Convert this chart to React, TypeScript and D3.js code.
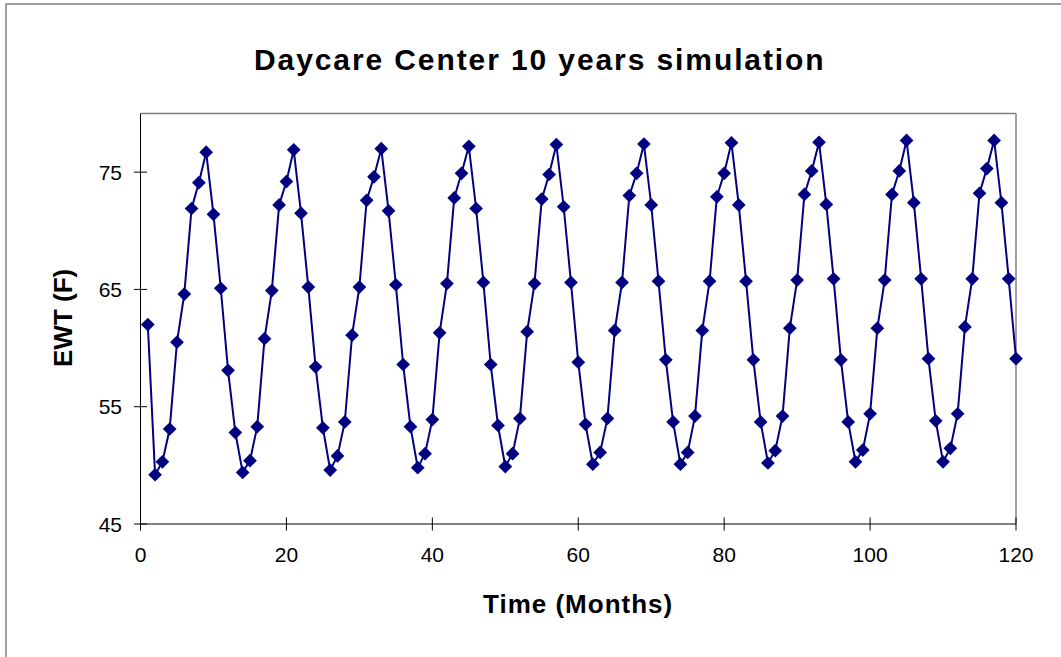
import React from "react";
import * as d3 from "d3";

const title = "Daycare Center 10 years simulation";
const xTitle = "Time (Months)";
const yTitle = "EWT (F)";
const xTicks = [0, 20, 40, 60, 80, 100, 120];
const yTicks = [45, 55, 65, 75];

const ewt = [
  62.0, 49.2, 50.3, 53.1, 60.5, 64.6, 71.9, 74.1, 76.7, 71.4, 65.1, 58.1,
  52.8, 49.4, 50.4, 53.3, 60.8, 64.9, 72.2, 74.2, 76.9, 71.5, 65.2, 58.4,
  53.2, 49.6, 50.8, 53.7, 61.1, 65.2, 72.6, 74.6, 77.0, 71.7, 65.4, 58.6,
  53.3, 49.8, 51.0, 53.9, 61.3, 65.5, 72.8, 74.9, 77.2, 71.9, 65.6, 58.6,
  53.4, 49.9, 51.0, 54.0, 61.4, 65.5, 72.7, 74.8, 77.35, 72.05, 65.6, 58.8,
  53.5, 50.1, 51.1, 54.0, 61.5, 65.6, 73.0, 74.9, 77.4, 72.2, 65.7, 59.0,
  53.7, 50.1, 51.1, 54.2, 61.5, 65.7, 72.9, 74.9, 77.5, 72.2, 65.7, 59.0,
  53.7, 50.2, 51.25, 54.2, 61.7, 65.8, 73.1, 75.1, 77.55, 72.25, 65.9, 59.0,
  53.7, 50.3, 51.3, 54.4, 61.7, 65.8, 73.1, 75.1, 77.7, 72.4, 65.9, 59.1,
  53.8, 50.3, 51.45, 54.4, 61.8, 65.9, 73.2, 75.3, 77.7, 72.4, 65.9, 59.1,
];
const months = ewt.map((_, i) => i + 1);

const W = 1061;
const H = 657;
const plot = { left: 140.5, right: 1016, top: 113.5, bottom: 524 };

export default function App() {
  const x = d3.scaleLinear().domain([0, 120]).range([plot.left, plot.right]);
  const y = d3.scaleLinear().domain([45, 80]).range([plot.bottom, plot.top]);
  const pts: [number, number][] = months.map((m, i) => [x(m), y(ewt[i])]);
  const line = d3.line()(pts) || "";
  const diamond = d3.symbol().type(d3.symbolDiamond2).size(120)() || "";
  const font = "Arial, 'Liberation Sans', sans-serif";

  return (
    <div style={{ position: "absolute", left: 0, top: 0 }}>
      <svg width={W} height={H} style={{ display: "block", background: "#fff" }}>
        <rect x={6} y={4} width={W + 10} height={H + 10} fill="#fff" stroke="#808080" strokeWidth={1.5} />
        <text x={254} y={70} fontFamily={font} fontWeight="bold" fontSize={30} letterSpacing={1.9} fill="#000">
          {title}
        </text>
        {/* plot frame */}
        <line x1={plot.left} y1={plot.top} x2={plot.right} y2={plot.top} stroke="#808080" strokeWidth={1.5} />
        <line x1={plot.right} y1={plot.top} x2={plot.right} y2={plot.bottom} stroke="#808080" strokeWidth={1.5} />
        <line x1={plot.left} y1={plot.top} x2={plot.left} y2={plot.bottom} stroke="#000" strokeWidth={1} />
        <line x1={plot.left} y1={plot.bottom} x2={plot.right} y2={plot.bottom} stroke="#000" strokeWidth={1} />
        {yTicks.map((t) => (
          <g key={"y" + t}>
            <line x1={plot.left - 6.5} x2={plot.left + 6.5} y1={y(t)} y2={y(t)} stroke="#000" strokeWidth={1} />
            <text x={122} y={y(t) + 7.5} textAnchor="end" fontFamily={font} fontSize={21} fill="#000">
              {t}
            </text>
          </g>
        ))}
        {xTicks.map((t) => (
          <g key={"x" + t}>
            <line x1={x(t)} x2={x(t)} y1={plot.bottom - 6.5} y2={plot.bottom + 6.5} stroke="#000" strokeWidth={1} />
            <text x={x(t)} y={562} textAnchor="middle" fontFamily={font} fontSize={21} fill="#000">
              {t}
            </text>
          </g>
        ))}
        <path d={line} fill="none" stroke="#000080" strokeWidth={2} />
        {pts.map((p, i) => (
          <path key={i} d={diamond} transform={`translate(${p[0]},${p[1]})`} fill="#000080" />
        ))}
        <text x={483} y={613} fontFamily={font} fontWeight="bold" fontSize={26} letterSpacing={1} fill="#000">
          {xTitle}
        </text>
        <text
          transform={`translate(72,367) rotate(-90)`}
          fontFamily={font}
          fontWeight="bold"
          fontSize={26}
          fill="#000"
        >
          {yTitle}
        </text>
      </svg>
    </div>
  );
}
